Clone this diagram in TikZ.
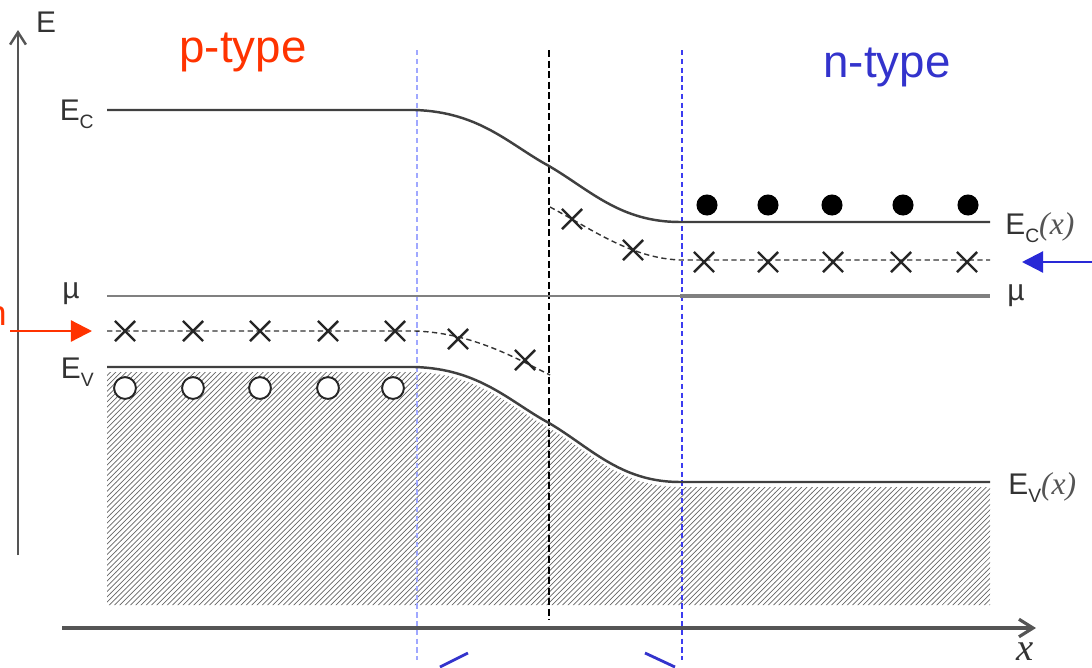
\documentclass[tikz,border=0pt]{standalone}
\usepackage{fontspec}
\setmainfont{Liberation Sans}
\newfontfamily\serifit{Liberation Serif}
\usepackage{xcolor}
\usepackage{tikz}
\usetikzlibrary{arrows.meta,patterns,shapes.misc}
\definecolor{ptype}{HTML}{FF3300}
\definecolor{ntype}{HTML}{3333CC}
\definecolor{bandline}{HTML}{404040}
\definecolor{axisgray}{HTML}{555555}
\definecolor{edgelight}{HTML}{A0A8FF}
\definecolor{edgeblue}{HTML}{3C3CF0}
\newcommand{\bandlbl}[1]{E\raisebox{-0.28em}{\fontsize{11}{12}\selectfont #1}}
\newcommand{\ofx}{{\serifit\itshape\fontsize{18}{20}\selectfont\color{axisgray}(x)}}

\begin{document}
\begin{tikzpicture}[x=0.02cm, y=-0.02cm,
  band/.style={bandline, line width=1.4pt},
  level/.style={black!80, line width=0.8pt, dash pattern=on 3pt off 2pt},
  xmark/.style={cross out, draw=black!85, line width=1.4pt, minimum size=10pt, inner sep=0pt},
  lbl/.style={font=\fontsize{17}{20}\selectfont, text=black!80, inner sep=0pt},
  edge/.style={line width=1.5pt, dash pattern=on 3pt off 2pt}]
\useasboundingbox (0,0) rectangle (1092,667);

% Filled valence band
\fill[pattern=north east lines, pattern color=black!60] (107,372) -- (415,372) .. controls (480,374) and (510,407) .. (549,428) .. controls (590,452) and (620,487) .. (680,487) -- (990,487) -- (990,605) -- (107,605) -- cycle;

% Axes
\coordinate (eorig) at (18,555);
\coordinate (etop) at (18,30);
\coordinate (xorig) at (62,628);
\coordinate (xend) at (1036,628);
\draw[axisgray, line width=1.4pt, -{Straight Barb[length=7pt, width=9pt]}] (eorig) -- (etop);
\draw[axisgray, line width=1.8pt, -{Straight Barb[length=8pt, width=10pt]}] (xorig) -- (xend);
\node[lbl, anchor=base] (elab) at (46,32) {E};
\node[font=\fontsize{22}{24}\selectfont\serifit\itshape, text=black!80, inner sep=0pt, anchor=base] (xlab) at (1025,660) {x};

% Region titles
\node[font=\fontsize{26}{30}\selectfont, text=ptype, anchor=base] (ptitle) at (243,62) {p-type};
\node[font=\fontsize{26}{30}\selectfont, text=ntype, anchor=base] (ntitle) at (887,77) {n-type};

% Depletion edges and junction
\draw[edgelight, edge] (417,50) -- (417,660);
\draw[black, line width=0.9pt, dash pattern=on 4pt off 2pt] (549,50) -- (549,620);
\draw[edgeblue, edge] (682,50) -- (682,660);

% Band edges
\draw[band] (107,110) -- (415,110) .. controls (480,112) and (510,145) .. (549,166) .. controls (590,190) and (620,222) .. (680,222) -- (990,222);
\draw[band] (107,367) -- (415,367) .. controls (480,369) and (510,402) .. (549,423) .. controls (590,447) and (620,482) .. (680,482) -- (990,482);

% Chemical potential
\draw[gray, line width=1pt] (107,296) -- (680,296);
\draw[gray, line width=1.8pt] (680,296) -- (990,296);

% Impurity levels
\draw[level] (107,331) -- (415,331) .. controls (470,333) and (510,355) .. (550,375);
\draw[level] (550,207) .. controls (590,228) and (630,258) .. (680,260) -- (990,260);
\foreach \x in {125,193,260,328,395} \node[xmark] at (\x,331) {};
\node[xmark] (acc6) at (458,339) {};
\node[xmark] (acc7) at (525,360) {};
\node[xmark] (don1) at (572,219) {};
\node[xmark] (don2) at (633,250) {};
\foreach \x in {704,768,833,901,967} \node[xmark] at (\x,262) {};

% Holes and electrons
\foreach \x in {125,193,260,328,393} \draw[black!85, line width=1.1pt, fill=white] (\x,388) circle (6.2pt);
\foreach \x in {707,768,832,903,968} \fill[black] (\x,205) circle (6pt);

% Level labels
\node[lbl, anchor=base east] (eclab) at (94,120) {\bandlbl{C}};
\node[lbl, anchor=base east] (mulab) at (80,298) {µ};
\node[lbl, anchor=base east] (evlab) at (94,378) {\bandlbl{V}};
\node[lbl, anchor=base west] (ecxlab) at (1005,234) {\bandlbl{C}\ofx};
\node[lbl, anchor=base west] (muxlab) at (1007,300) {µ};
\node[lbl, anchor=base west] (evxlab) at (1008,494) {\bandlbl{V}\ofx};

% Pointers to the impurity levels
\node[font=\fontsize{20}{24}\selectfont, text=ptype, anchor=base east, inner sep=0pt] (accnote) at (7,325) {n};
\coordinate (acctip) at (92,331);
\coordinate (acctail) at (10,331);
\draw[ptype, line width=1.3pt, -{Triangle[length=12pt, width=12pt]}] (acctail) -- (acctip);
\coordinate (dontail) at (1092,262);
\coordinate (dontip) at (1022,262);
\draw[ntype!80!blue, line width=1.3pt, -{Triangle[length=12pt, width=12pt]}] (dontail) -- (dontip);

% Depletion width marks
\draw[ntype, line width=1.6pt] (440,667) -- (468,653);
\draw[ntype, line width=1.6pt] (645,653) -- (675,667);

\end{tikzpicture}
\end{document}
